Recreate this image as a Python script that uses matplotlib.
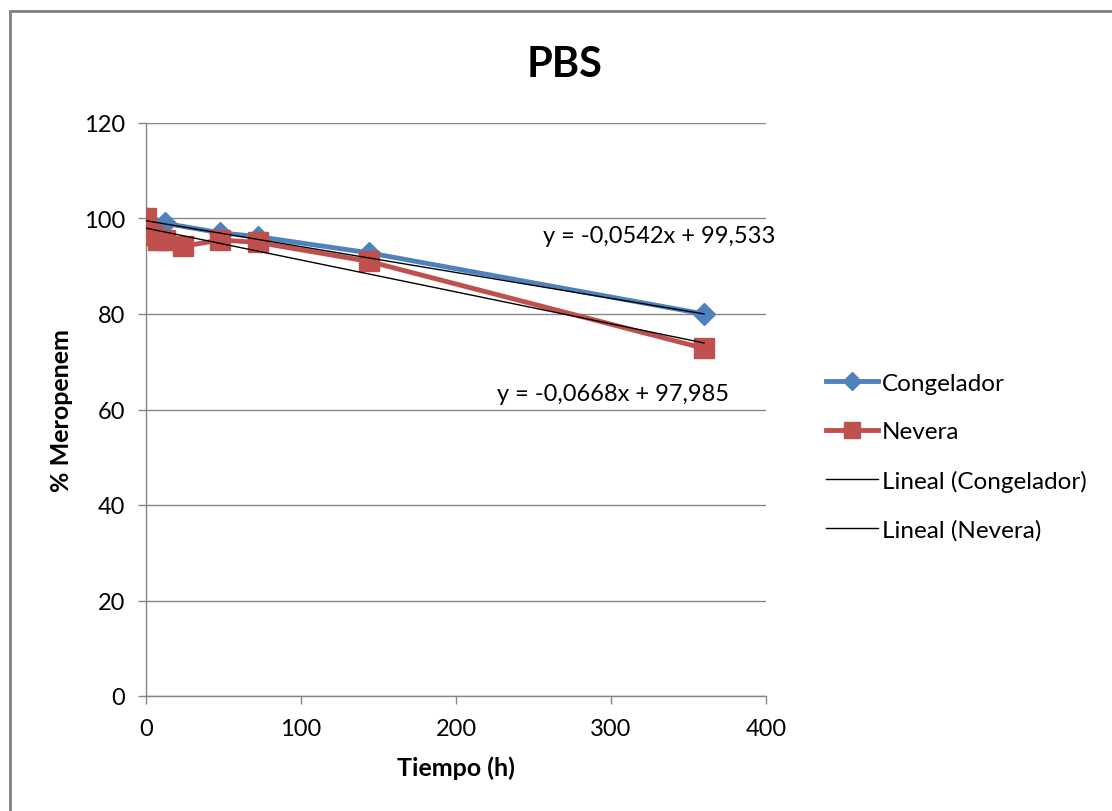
import matplotlib
matplotlib.use("Agg")
import matplotlib.pyplot as plt
from matplotlib.lines import Line2D
from matplotlib.patches import Rectangle

plt.rcParams['font.family'] = ['Lato', 'DejaVu Sans']

# Sampling times (h) and remaining meropenem (%)
congelador_t = [0, 12, 48, 72, 144, 360]
congelador_pct = [100, 99.0, 97.0, 96.2, 92.8, 80.0]

nevera_t = [0, 4, 8, 12, 24, 48, 72, 144, 360]
nevera_pct = [100, 96.5, 95.5, 95.5, 94.2, 95.5, 95.0, 91.0, 72.8]

# Linear trend coefficients (slope, intercept)
fit_congelador = (-0.0542, 99.533)
fit_nevera = (-0.0668, 97.985)
fit_range = [0, 360]

x_ticks = [0, 100, 200, 300, 400]
y_ticks = [0, 20, 40, 60, 80, 100, 120]

blue = '#4F81BD'
red = '#C0504D'
grid_c = '#868686'

fig = plt.figure(figsize=(11.12, 8.12), dpi=100)
fig.patches.append(Rectangle((10 / 1112, -0.1), 1.2, 1 - 12 / 812 + 0.1,
                             transform=fig.transFigure, fill=False,
                             edgecolor='#7f7f7f', linewidth=2, zorder=0))

ax = fig.add_axes([146 / 1112, 115 / 812, 620 / 1112, 573 / 812])
ax.set_xlim(0, 400)
ax.set_ylim(0, 120)
ax.set_xticks(x_ticks)
ax.set_yticks(y_ticks)
ax.yaxis.grid(True, color=grid_c, linewidth=1)
ax.set_axisbelow(True)
for s in ('top', 'right'):
    ax.spines[s].set_visible(False)
for s in ('left', 'bottom'):
    ax.spines[s].set_color(grid_c)
    ax.spines[s].set_linewidth(1)
ax.tick_params(axis='both', colors=grid_c, length=6, width=1,
               labelcolor='black', labelsize=17)
ax.tick_params(axis='x', pad=10)
ax.tick_params(axis='y', pad=9)

ax.plot(congelador_t, congelador_pct, color=blue, lw=3.5, marker='D',
        ms=11, mec=blue, mfc=blue, zorder=3, label='Congelador')
ax.plot(nevera_t, nevera_pct, color=red, lw=3.5, marker='s',
        ms=14.5, mec=red, mfc=red, zorder=3, label='Nevera')

for (m, b) in (fit_congelador, fit_nevera):
    ax.plot(fit_range, [m * x + b for x in fit_range], color='black',
            lw=1, zorder=4)

ax.text(397 / 620, 1 - (237 - 124) / 573, 'y = -0,0542x + 99,533',
        transform=ax.transAxes, fontsize=17, ha='left', va='center')
ax.text(351 / 620, 1 - (395 - 124) / 573, 'y = -0,0668x + 97,985',
        transform=ax.transAxes, fontsize=17, ha='left', va='center')

ax.set_xlabel('Tiempo (h)', fontsize=18, fontweight='bold', labelpad=12)
ax.set_ylabel('% Meropenem', fontsize=18, fontweight='bold', labelpad=8)
fig.text(565 / 1112, 1 - 65 / 812, 'PBS', fontsize=30, fontweight='bold',
         ha='center', va='center')

handles = [
    Line2D([], [], color=blue, lw=3.5, marker='D', ms=9, mec=blue, mfc=blue),
    Line2D([], [], color=red, lw=3.5, marker='s', ms=12, mec=red, mfc=red),
    Line2D([], [], color='black', lw=1),
    Line2D([], [], color='black', lw=1),
]
labels = ['Congelador', 'Nevera', 'Lineal (Congelador)', 'Lineal (Nevera)']
fig.legend(handles, labels, loc='upper left',
           bbox_to_anchor=(816 / 1112, 1 - 364 / 812), frameon=False,
           fontsize=17.5, handlelength=2.15, handletextpad=0.15,
           labelspacing=1.13, borderaxespad=0)

fig.savefig('out.png', dpi=100)
